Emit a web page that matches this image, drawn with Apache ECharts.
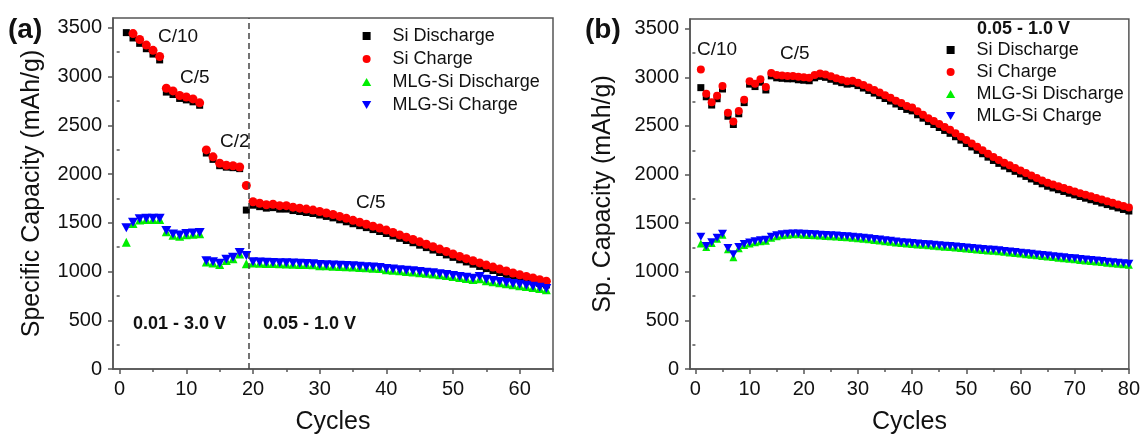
<!DOCTYPE html>
<html>
<head>
<meta charset="utf-8">
<script src="https://cdn.jsdelivr.net/npm/echarts@6/dist/echarts.min.js"></script>
<style>
  html, body { margin: 0; padding: 0; background: #fff; }
  #chart { width: 1143px; height: 440px; }
</style>
</head>
<body>
<div id="chart"></div>
<script>
// panel (a): cycle i+1 -> value
const siDisA = [3450, 3395, 3340, 3285, 3230, 3170, 2840, 2815, 2775, 2760, 2740, 2705,
  2215, 2150, 2085, 2070, 2065, 2055, 1630,
  1680, 1665, 1650, 1655, 1640, 1640, 1625, 1615, 1605, 1595,
  1580, 1565, 1550, 1530, 1510, 1490, 1470, 1450, 1430, 1410,
  1390, 1365, 1340, 1318, 1295, 1270, 1245, 1220, 1195, 1170,
  1145, 1120, 1098, 1075, 1052, 1030, 1010, 990, 970, 950,
  932, 914, 896, 878, 862]
const siChgA = [null, 3440, 3380, 3322, 3268, 3205, 2880, 2852, 2805, 2790, 2770, 2730,
  2247, 2176, 2110, 2090, 2085, 2072, 1882,
  1715, 1700, 1685, 1690, 1675, 1675, 1660, 1650, 1640, 1630,
  1615, 1600, 1585, 1565, 1545, 1525, 1505, 1485, 1465, 1445,
  1425, 1400, 1375, 1352, 1328, 1304, 1280, 1255, 1230, 1205,
  1180, 1155, 1132, 1110, 1088, 1066, 1045, 1025, 1005, 985,
  967, 950, 933, 916, 900]
const mlgDisA = [1300, 1492, 1528, 1533, 1533, 1533, 1408, 1372, 1362, 1377, 1383, 1388,
  1098, 1088, 1073, 1112, 1132, 1180, 1080,
  1088, 1085, 1083, 1081, 1079, 1077, 1075, 1073, 1071, 1068,
  1060, 1058, 1055, 1052, 1049, 1046, 1042, 1038, 1034, 1030,
  1018, 1013, 1007, 1001, 995, 988, 981, 974, 966, 958,
  948, 938, 928, 918, 925, 906, 895, 885, 875, 865,
  855, 845, 835, 825, 812]
const mlgChgA = [1450, 1505, 1540, 1545, 1545, 1545, 1420, 1385, 1375, 1390, 1395, 1400,
  1110, 1100, 1085, 1125, 1145, 1195, 1165,
  1100, 1097, 1095, 1093, 1091, 1089, 1087, 1085, 1083, 1080,
  1072, 1070, 1067, 1064, 1061, 1058, 1054, 1050, 1046, 1042,
  1030, 1025, 1019, 1013, 1007, 1000, 993, 986, 978, 970,
  960, 950, 940, 930, 948, 920, 908, 898, 888, 878,
  868, 858, 848, 838, 825]

// panel (b)
const siDisB = [2894, 2800, 2715, 2780, 2880, 2600, 2515, 2625, 2740, 2930,
  2905, 2950, 2870, 3015, 2995, 2990, 2985, 2985, 2975, 2970,
  2965, 2995, 3010, 3000, 2980, 2960, 2945, 2930, 2935, 2915,
  2890, 2865, 2838, 2812, 2782, 2756, 2726, 2700, 2670, 2655,
  2615, 2580, 2545, 2515, 2484, 2454, 2424, 2389, 2354, 2319,
  2284, 2249, 2214, 2179, 2145, 2115, 2087, 2060, 2033, 2007,
  1981, 1955, 1930, 1905, 1880, 1862, 1844, 1826, 1808, 1791,
  1774, 1757, 1741, 1725, 1708, 1691, 1674, 1657, 1641, 1625]
const siChgB = [3080, 2830, 2745, 2810, 2910, 2635, 2545, 2655, 2770, 2960,
  2935, 2980, 2900, 3045, 3025, 3020, 3015, 3015, 3005, 3000,
  2995, 3025, 3040, 3030, 3010, 2990, 2975, 2960, 2965, 2945,
  2920, 2895, 2870, 2845, 2815, 2790, 2760, 2735, 2705, 2690,
  2650, 2615, 2580, 2550, 2520, 2490, 2460, 2425, 2390, 2355,
  2320, 2285, 2250, 2215, 2180, 2150, 2122, 2095, 2068, 2042,
  2016, 1990, 1965, 1940, 1915, 1897, 1879, 1861, 1843, 1826,
  1809, 1792, 1776, 1760, 1743, 1726, 1709, 1692, 1676, 1660]
const mlgDisB = [1290, 1255, 1295, 1340, 1380, 1232, 1150, 1242, 1275, 1290,
  1305, 1315, 1320, 1350, 1365, 1375, 1380, 1385, 1385, 1382,
  1378, 1375, 1372, 1368, 1365, 1362, 1358, 1355, 1350, 1345,
  1340, 1334, 1328, 1322, 1315, 1308, 1302, 1295, 1290, 1286,
  1281, 1277, 1272, 1268, 1263, 1258, 1254, 1249, 1244, 1240,
  1235, 1230, 1225, 1220, 1216, 1211, 1205, 1199, 1193, 1187,
  1181, 1175, 1169, 1163, 1157, 1151, 1145, 1139, 1133, 1128,
  1122, 1117, 1111, 1106, 1100, 1094, 1089, 1083, 1078, 1072]
const mlgChgB = [1360, 1265, 1305, 1350, 1390, 1245, 1180, 1255, 1285, 1300,
  1315, 1325, 1330, 1360, 1375, 1385, 1390, 1395, 1395, 1392,
  1388, 1385, 1382, 1378, 1375, 1372, 1368, 1365, 1360, 1355,
  1350, 1344, 1338, 1332, 1325, 1318, 1312, 1305, 1300, 1296,
  1291, 1287, 1282, 1278, 1273, 1268, 1264, 1259, 1254, 1250,
  1245, 1240, 1235, 1230, 1226, 1221, 1215, 1209, 1203, 1197,
  1191, 1185, 1179, 1173, 1167, 1161, 1155, 1149, 1143, 1138,
  1132, 1127, 1121, 1116, 1110, 1104, 1099, 1093, 1088, 1082]

const seriesNames = ['Si Discharge', 'Si Charge', 'MLG-Si Discharge', 'MLG-Si Charge']
const xTicksA = [0, 10, 20, 30, 40, 50, 60]
const xMinorA = [5, 15, 25, 35, 45, 55, 65]
const xTicksB = [0, 10, 20, 30, 40, 50, 60, 70, 80]
const xMinorB = [5, 15, 25, 35, 45, 55, 65, 75]
const yTicks = [0, 500, 1000, 1500, 2000, 2500, 3000, 3500]
const yMinor = [250, 750, 1250, 1750, 2250, 2750, 3250]

const FONT = 'Liberation Sans, Arial, sans-serif'
const AXIS_COLOR = '#555'
const SQUARE = 'path://M0,0L10,0L10,10L0,10Z'
const TRI_UP = 'path://M5,0L10,8.66L0,8.66Z'
const TRI_DOWN = 'path://M0,0L10,0L5,8.66Z'
const legendIcons = [SQUARE, 'circle', TRI_UP, TRI_DOWN]

const toPairs = (vals) => vals.map((v, i) => (v == null ? null : [i + 1, v])).filter(Boolean)

const mainX = (grid, min, max, ticks, name) => ({
  type: 'value', gridIndex: grid, min: min, max: max,
  name: name, nameLocation: 'middle', nameGap: 41,
  nameTextStyle: { fontSize: 25, color: '#111', fontFamily: FONT },
  axisLine: { show: true, onZero: false, lineStyle: { color: AXIS_COLOR, width: 1.5 } },
  axisTick: { show: true, length: 5, customValues: ticks, lineStyle: { color: AXIS_COLOR, width: 1.5 } },
  axisLabel: { customValues: ticks, fontSize: 20, color: '#111', fontFamily: FONT, margin: 10, formatter: (v) => String(v) },
  splitLine: { show: false }
})
const minorX = (grid, min, max, ticks) => ({
  type: 'value', gridIndex: grid, min: min, max: max, position: 'bottom',
  axisLine: { show: false },
  axisTick: { show: true, length: 3, customValues: ticks, lineStyle: { color: AXIS_COLOR, width: 1.5 } },
  axisLabel: { show: false },
  splitLine: { show: false }
})
const mainY = (grid, name, gap) => ({
  type: 'value', gridIndex: grid, min: 0, max: 3600,
  name: name, nameLocation: 'middle', nameGap: gap,
  nameTextStyle: { fontSize: 25, color: '#111', fontFamily: FONT },
  axisLine: { show: true, onZero: false, lineStyle: { color: AXIS_COLOR, width: 1.5 } },
  axisTick: { show: true, length: 5, customValues: yTicks, lineStyle: { color: AXIS_COLOR, width: 1.5 } },
  axisLabel: { customValues: yTicks, fontSize: 20, color: '#111', fontFamily: FONT, margin: 11, formatter: (v) => String(v) },
  splitLine: { show: false }
})
const minorY = (grid) => ({
  type: 'value', gridIndex: grid, min: 0, max: 3600, position: 'left',
  axisLine: { show: false },
  axisTick: { show: true, length: 3, customValues: yMinor, lineStyle: { color: AXIS_COLOR, width: 1.5 } },
  axisLabel: { show: false },
  splitLine: { show: false }
})

const scatter = (name, vals, idx, symbol, size, color) => ({
  name: name, type: 'scatter', xAxisIndex: idx, yAxisIndex: idx,
  symbol: symbol, symbolSize: size,
  itemStyle: { color: color, opacity: 1 },
  data: toPairs(vals)
})

const legendCfg = (left, top, gap) => ({
  orient: 'vertical', left: left, top: top, padding: 0,
  itemWidth: 42, itemHeight: 8, itemGap: gap, selectedMode: false,
  textStyle: { fontSize: 18, color: '#111', fontFamily: FONT },
  data: seriesNames.map((n, i) => ({ name: n, icon: legendIcons[i] }))
})

const text = (left, top, str, size, bold) => ({
  type: 'text', left: left, top: top,
  style: { text: str, fontSize: size, fontWeight: bold ? 'bold' : 'normal', fill: '#111', font: (bold ? 'bold ' : '') + size + 'px ' + FONT }
})

const chart = echarts.init(document.getElementById('chart'))
const siDisASeries = scatter(seriesNames[0], siDisA, 0, 'rect', 7, '#000')
siDisASeries.markLine = {
  silent: true, symbol: ['none', 'none'], label: { show: false },
  lineStyle: { type: [6, 4], color: '#444', width: 1.5 },
  data: [{ xAxis: 19.4 }]
}

chart.setOption({
  animation: false,
  backgroundColor: '#fff',
  grid: [
    { left: 113, right: 590, top: 18, bottom: 67, show: true, borderColor: AXIS_COLOR, borderWidth: 1.5 },
    { left: 690, right: 12, top: 19, bottom: 67, show: true, borderColor: AXIS_COLOR, borderWidth: 1.5 }
  ],
  xAxis: [
    mainX(0, -1, 65, xTicksA, 'Cycles'),
    mainX(1, -1, 80, xTicksB, 'Cycles'),
    minorX(0, -1, 65, xMinorA),
    minorX(1, -1, 80, xMinorB)
  ],
  yAxis: [
    mainY(0, 'Specific Capacity (mAh/g)', 68),
    mainY(1, 'Sp. Capacity (mAh/g)', 74),
    minorY(0),
    minorY(1)
  ],
  legend: [legendCfg(362, 27, 5), legendCfg(946, 41, 4)],
  graphic: [
    text(8, 16, '(a)', 28, true),
    text(158, 27, 'C/10', 19, false),
    text(180, 68, 'C/5', 19, false),
    text(220, 132, 'C/2', 19, false),
    text(356, 193, 'C/5', 19, false),
    text(133, 315, '0.01 - 3.0 V', 18, true),
    text(263, 315, '0.05 - 1.0 V', 18, true),
    text(585, 16, '(b)', 28, true),
    text(697, 40, 'C/10', 19, false),
    text(780, 44, 'C/5', 19, false),
    text(977, 20, '0.05 - 1.0 V', 18, true)
  ],
  series: [
    siDisASeries,
    scatter(seriesNames[1], siChgA, 0, 'circle', 9, '#ff0000'),
    scatter(seriesNames[2], mlgDisA, 0, 'triangle', 9, '#00ee00'),
    scatter(seriesNames[3], mlgChgA, 0, TRI_DOWN, [10, 9], '#0000ff'),
    scatter(seriesNames[0], siDisB, 1, 'rect', 7, '#000'),
    scatter(seriesNames[1], siChgB, 1, 'circle', 8, '#ff0000'),
    scatter(seriesNames[2], mlgDisB, 1, 'triangle', 8, '#00ee00'),
    scatter(seriesNames[3], mlgChgB, 1, TRI_DOWN, [9, 8], '#0000ff')
  ]
})
</script>
</body>
</html>
